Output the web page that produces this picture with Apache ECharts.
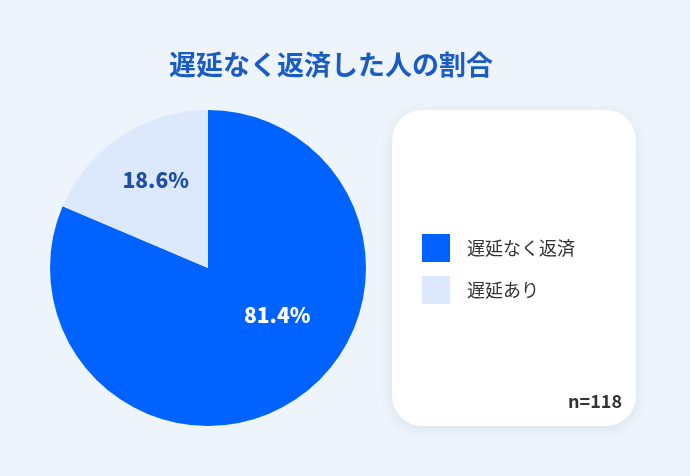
<!DOCTYPE html>
<html>
<head>
<meta charset="utf-8">
<script src="https://cdn.jsdelivr.net/npm/echarts@6/dist/echarts.min.js"></script>
<style>
  html, body { margin: 0; padding: 0; background: #eef4fb; }
  #chart { width: 690px; height: 476px; }
</style>
</head>
<body>
<div id="chart"></div>
<script>
(function(){

    // data
    let categories = ['遅延なく返済', '遅延あり'];
    let shares = [81.4, 18.6];
    let colors = ['#0062ff', '#dce8fc'];
    let sampleSize = 118;

    let _font = '"Noto Sans CJK JP", "Noto Sans", sans-serif';

    // label tweaks per slice (offsets from inside position)
    let _labelStyles = [
        { color: '#ffffff', offset: [24, -21] },
        { color: '#1e4fa3', offset: [-7, -20] }
    ];

    let pieData = categories.map(function(name, i){
        return {
            name: name,
            value: shares[i],
            itemStyle: { color: colors[i] },
            label: {
                color: _labelStyles[i].color,
                offset: _labelStyles[i].offset
            }
        };
    });

    let chart = echarts.init(document.getElementById('chart'), null, { renderer: 'canvas' });

    chart.setOption({
        backgroundColor: '#eef4fb',
        animation: false,
        textStyle: { fontFamily: _font },
        title: {
            text: '遅延なく返済した人の割合',
            left: 326,
            top: 46,
            textAlign: 'center',
            textStyle: {
                fontFamily: _font,
                fontSize: 27,
                fontWeight: 'bold',
                color: '#1a5bc4'
            }
        },
        graphic: [
            {
                type: 'rect',
                z: 0,
                shape: { x: 392, y: 110, width: 244, height: 316, r: 30 },
                style: {
                    fill: '#ffffff',
                    shadowBlur: 14,
                    shadowOffsetY: 3,
                    shadowColor: 'rgba(20, 60, 120, 0.10)'
                }
            },
            {
                type: 'text',
                z: 10,
                right: 690 - 622,
                top: 392,
                style: {
                    text: 'n=' + sampleSize,
                    font: 'bold 18px ' + _font,
                    fill: '#333333'
                }
            }
        ],
        legend: {
            orient: 'vertical',
            left: 422,
            top: 234,
            padding: 0,
            itemWidth: 28,
            itemHeight: 28,
            itemGap: 14,
            icon: 'rect',
            selectedMode: false,
            data: categories,
            textStyle: {
                fontFamily: _font,
                fontSize: 18,
                color: '#333333',
                padding: [0, 0, 0, 12]
            }
        },
        series: [
            {
                type: 'pie',
                center: [208, 268],
                radius: [0, 158],
                startAngle: 90,
                clockwise: true,
                silent: true,
                data: pieData,
                label: {
                    show: true,
                    position: 'inside',
                    fontFamily: _font,
                    fontSize: 21,
                    fontWeight: 900,
                    formatter: function(p){ return p.value.toFixed(1) + '%'; }
                },
                labelLine: { show: false },
                emphasis: { disabled: true }
            }
        ]
    });

})();
</script>
</body>
</html>
